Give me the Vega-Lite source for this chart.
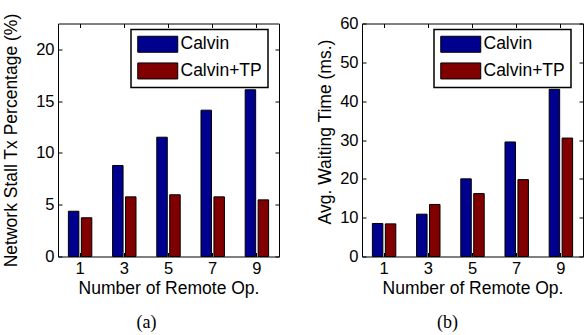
{
  "$schema": "https://vega.github.io/schema/vega-lite/v6.json",
  "padding": {"left": 2, "top": 12.5, "right": 0, "bottom": 0},
  "spacing": 36,
  "datasets": {
    "stall": [
      {"ops": 1, "system": "Calvin", "value": 4.37},
      {"ops": 1, "system": "Calvin+TP", "value": 3.74},
      {"ops": 3, "system": "Calvin", "value": 8.79},
      {"ops": 3, "system": "Calvin+TP", "value": 5.76},
      {"ops": 5, "system": "Calvin", "value": 11.52},
      {"ops": 5, "system": "Calvin+TP", "value": 5.96},
      {"ops": 7, "system": "Calvin", "value": 14.13},
      {"ops": 7, "system": "Calvin+TP", "value": 5.76},
      {"ops": 9, "system": "Calvin", "value": 16.1},
      {"ops": 9, "system": "Calvin+TP", "value": 5.47}
    ],
    "wait": [
      {"ops": 1, "system": "Calvin", "value": 8.5},
      {"ops": 1, "system": "Calvin+TP", "value": 8.4},
      {"ops": 3, "system": "Calvin", "value": 10.9},
      {"ops": 3, "system": "Calvin+TP", "value": 13.4},
      {"ops": 5, "system": "Calvin", "value": 20.0},
      {"ops": 5, "system": "Calvin+TP", "value": 16.2},
      {"ops": 7, "system": "Calvin", "value": 29.5},
      {"ops": 7, "system": "Calvin+TP", "value": 19.8},
      {"ops": 9, "system": "Calvin", "value": 43.05},
      {"ops": 9, "system": "Calvin+TP", "value": 30.5}
    ]
  },
  "hconcat": [
    {
      "width": 221,
      "height": 233,
      "data": {"name": "stall"},
      "title": {"text": "(a)", "orient": "bottom", "font": "Liberation Serif", "fontSize": 18, "fontWeight": "normal", "color": "black", "offset": 17, "dx": -22},
      "layer": [
        {
          "mark": {"type": "bar", "stroke": "black", "strokeWidth": 1},
          "encoding": {
            "x": {"field": "ops", "type": "ordinal", "scale": {"paddingInner": 0.47, "paddingOuter": 0.235},
              "axis": {"orient": "bottom", "title": "Number of Remote Op.", "labelAngle": 0}},
            "xOffset": {"field": "system", "type": "nominal", "scale": {"paddingInner": 0.19}},
            "y": {"field": "value", "type": "quantitative", "scale": {"domain": [0, 22.5], "nice": false},
              "axis": {"orient": "left", "title": "Network Stall Tx Percentage (%)", "values": [0, 5, 10, 15, 20], "titlePadding": 15}},
            "color": {"field": "system", "type": "nominal", "scale": {"domain": ["Calvin", "Calvin+TP"], "range": ["#00008F", "#800000"]},
              "legend": {"title": null, "orient": "none", "legendX": 73, "legendY": 6}}
          }
        },
        {
          "mark": {"type": "bar", "opacity": 0},
          "encoding": {
            "x": {"field": "ops", "type": "ordinal", "axis": {"orient": "top", "labels": false, "title": null}},
            "xOffset": {"field": "system", "type": "nominal"},
            "y": {"field": "value", "type": "quantitative", "axis": {"orient": "right", "labels": false, "title": null, "values": [0, 5, 10, 15, 20]}}
          }
        }
      ],
      "resolve": {"axis": {"x": "independent", "y": "independent"}}
    },
    {
      "width": 221,
      "height": 233,
      "data": {"name": "wait"},
      "title": {"text": "(b)", "orient": "bottom", "font": "Liberation Serif", "fontSize": 18, "fontWeight": "normal", "color": "black", "offset": 17, "dx": -25},
      "layer": [
        {
          "mark": {"type": "bar", "stroke": "black", "strokeWidth": 1},
          "encoding": {
            "x": {"field": "ops", "type": "ordinal", "scale": {"paddingInner": 0.47, "paddingOuter": 0.235},
              "axis": {"orient": "bottom", "title": "Number of Remote Op.", "labelAngle": 0}},
            "xOffset": {"field": "system", "type": "nominal", "scale": {"paddingInner": 0.19}},
            "y": {"field": "value", "type": "quantitative", "scale": {"domain": [0, 60], "nice": false},
              "axis": {"orient": "left", "title": "Avg. Waiting Time (ms.)", "values": [0, 10, 20, 30, 40, 50, 60], "titlePadding": 5, "titleY": 108}},
            "color": {"field": "system", "type": "nominal", "scale": {"domain": ["Calvin", "Calvin+TP"], "range": ["#00008F", "#800000"]},
              "legend": {"title": null, "orient": "none", "legendX": 72, "legendY": 6}}
          }
        },
        {
          "mark": {"type": "bar", "opacity": 0},
          "encoding": {
            "x": {"field": "ops", "type": "ordinal", "axis": {"orient": "top", "labels": false, "title": null}},
            "xOffset": {"field": "system", "type": "nominal"},
            "y": {"field": "value", "type": "quantitative", "axis": {"orient": "right", "labels": false, "title": null, "values": [0, 10, 20, 30, 40, 50, 60]}}
          }
        }
      ],
      "resolve": {"axis": {"x": "independent", "y": "independent"}}
    }
  ],
  "resolve": {"scale": {"color": "independent"}, "legend": {"color": "independent"}},
  "config": {
    "font": "Liberation Sans",
    "view": {"stroke": "black", "strokeWidth": 1},
    "axis": {
      "grid": false,
      "domain": false,
      "tickColor": "black",
      "tickSize": -4,
      "labelPadding": 8,
      "labelFont": "Liberation Sans",
      "labelFontSize": 16.5,
      "labelColor": "black",
      "titleFont": "Liberation Sans",
      "titleFontSize": 17.5,
      "titleFontWeight": "normal",
      "titleColor": "black",
      "titlePadding": 2
    },
    "legend": {
      "padding": 6,
      "strokeColor": "black",
      "strokeWidth": 1.5,
      "fillColor": "white",
      "symbolType": "M-2.5,-1H2.5V1H-2.5Z",
      "symbolSize": 256,
      "symbolOffset": 12,
      "symbolStrokeColor": "black",
      "symbolStrokeWidth": 1,
      "symbolOpacity": 1,
      "labelFont": "Liberation Sans",
      "labelFontSize": 17.5,
      "labelColor": "black",
      "labelOffset": 14,
      "rowPadding": 5.7
    }
  }
}
